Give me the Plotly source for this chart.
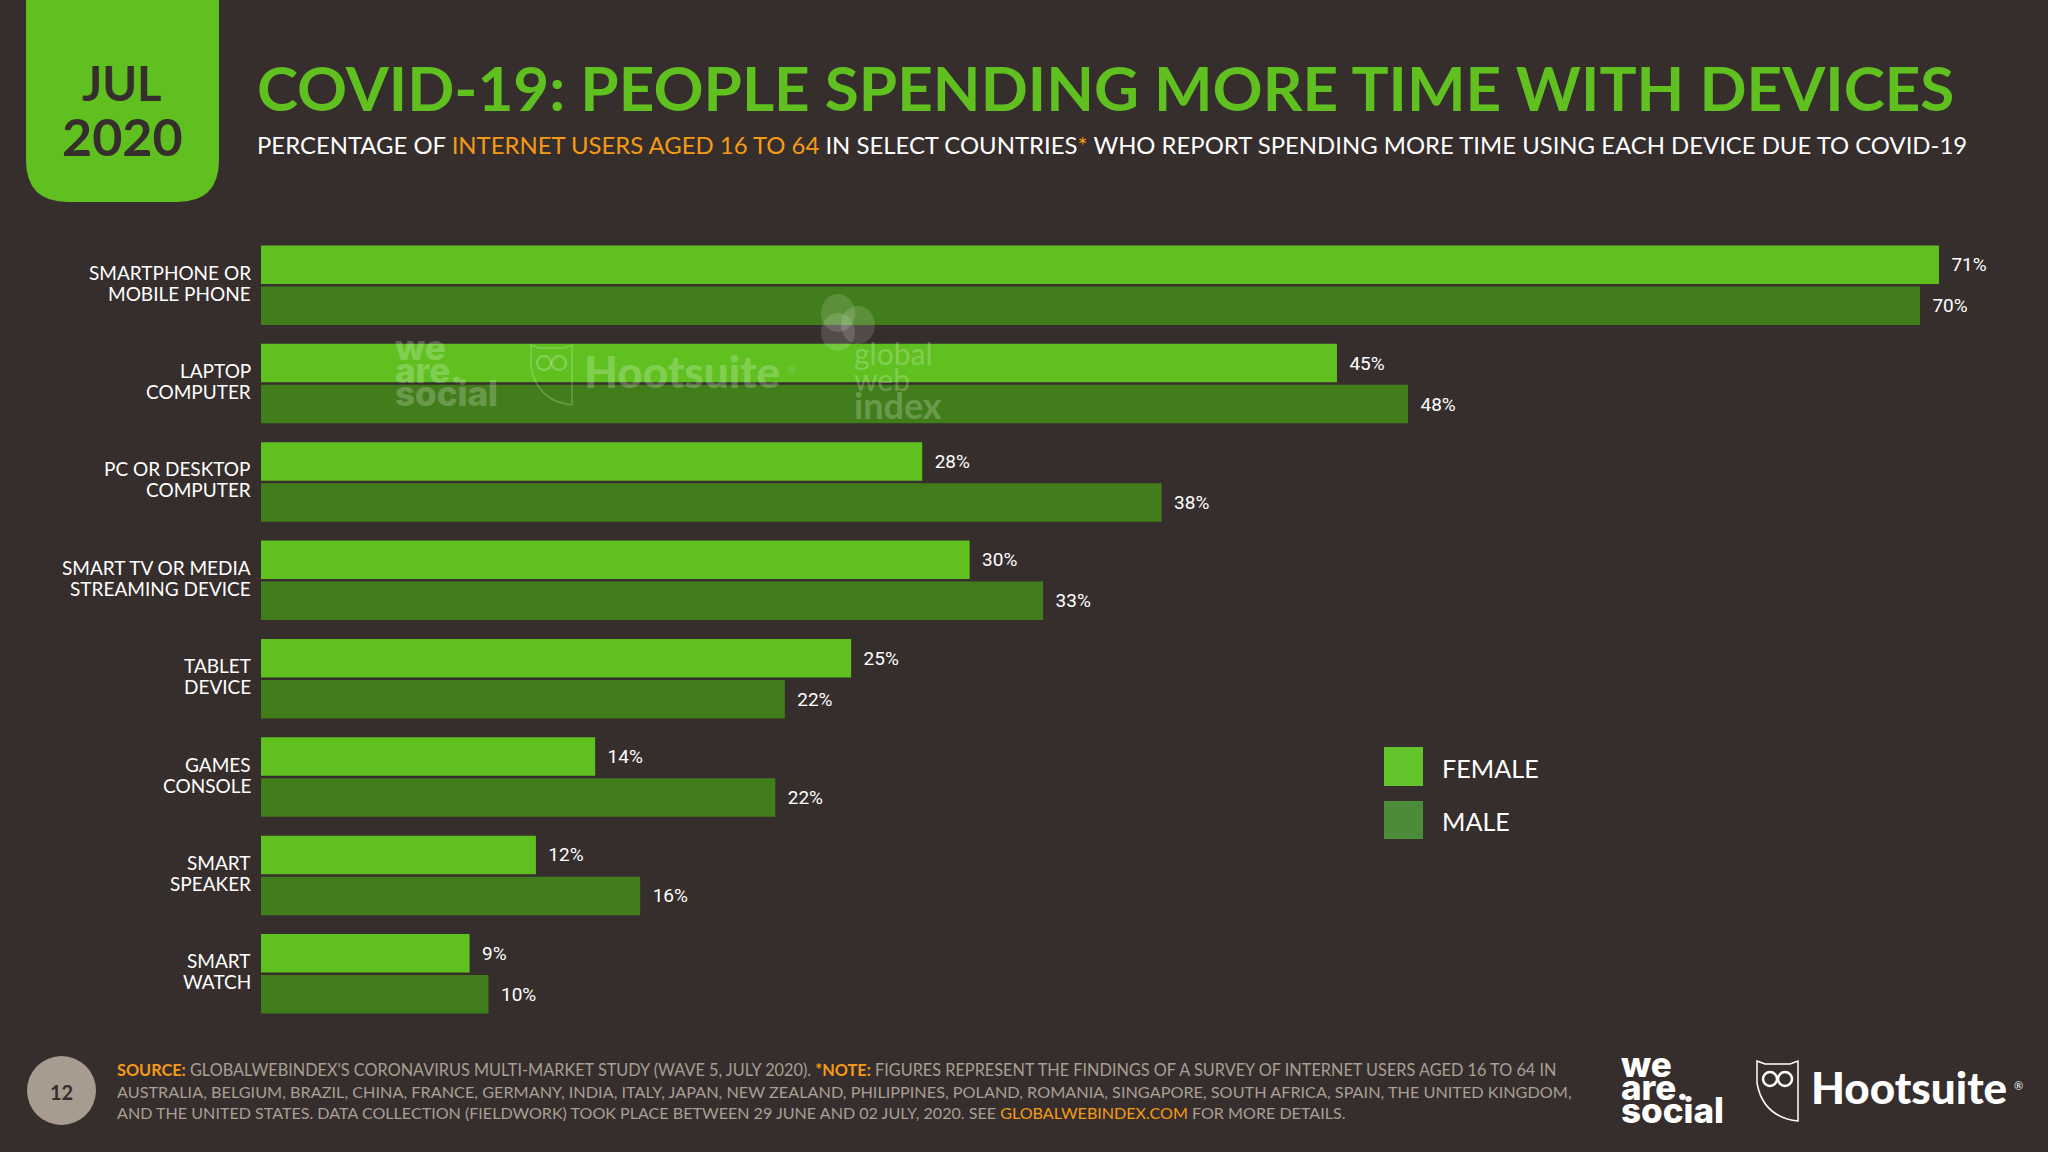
import plotly.graph_objects as go

W, H = 2048, 1152

categories = ["SMARTPHONE OR<br>MOBILE PHONE", "LAPTOP<br>COMPUTER", "PC OR DESKTOP<br>COMPUTER",
              "SMART TV OR MEDIA<br>STREAMING DEVICE", "TABLET<br>DEVICE", "GAMES<br>CONSOLE",
              "SMART<br>SPEAKER", "SMART<br>WATCH"]
female = [70.8, 45.4, 27.9, 29.9, 24.9, 14.1, 11.6, 8.8]
male = [70.0, 48.4, 38.0, 33.0, 22.1, 21.7, 16.0, 9.6]

BG = "#362E2C"
GREEN = "#5FC020"
DARK_GREEN = "#417D1A"
ORANGE = "#F49A14"
GREY = "#A89F95"
BODY = "Lato"
NUMS = "Roboto"
LOGO = "Inter"


def px(x):
    return x / W


def py(y):
    return 1 - y / H


def path(*cmds):
    # cmds are (letter, x, y, ...) in page pixels, converted to paper coords
    out = []
    for c in cmds:
        if c[0] == "Z":
            out.append("Z")
            continue
        nums = c[1:]
        pairs = [f"{px(nums[i]):.5f},{py(nums[i + 1]):.5f}" for i in range(0, len(nums), 2)]
        out.append(c[0] + " " + " ".join(pairs))
    return " ".join(out)


shapes = []
notes = []


def add_text(text, x, y, size, color="#FFFFFF", anchor="left", family=BODY, opacity=1, weight=None):
    font = dict(size=size, color=color, family=family)
    if weight:
        font["weight"] = weight
    notes.append(dict(text=text, x=px(x), y=py(y), xref="paper", yref="paper", xanchor=anchor, yanchor="middle",
                      showarrow=False, font=font, borderpad=0, borderwidth=0, opacity=opacity, align=anchor))


def add_circle(cx, cy, rx, ry, fill, line=None, opacity=1, width=0):
    shapes.append(dict(type="circle", xref="paper", yref="paper", x0=px(cx - rx), x1=px(cx + rx),
                       y0=py(cy + ry), y1=py(cy - ry), fillcolor=fill, opacity=opacity,
                       line=dict(color=line or fill, width=width), layer="above"))


def add_rect(x0, y0, x1, y1, fill):
    shapes.append(dict(type="rect", xref="paper", yref="paper", x0=px(x0), x1=px(x1), y0=py(y1), y1=py(y0),
                       fillcolor=fill, line=dict(width=0), layer="above"))


def add_owl(ox, oy, sc, color, opacity=1):
    # shield outline plus the two eyes; ox, oy is the top left corner
    def p(a, b):
        return ox + a * sc, oy + b * sc
    shapes.append(dict(type="path", xref="paper", yref="paper", layer="above", opacity=opacity,
                       line=dict(color=color, width=1.5), fillcolor="rgba(0,0,0,0)",
                       path=path(("M", *p(0, 0)), ("L", *p(8, 3)), ("L", *p(33, 3)), ("L", *p(41, 0)),
                                 ("L", *p(41, 60)), ("Q", *p(6, 56), *p(0, 22)), ("Z",))))
    add_circle(*p(13, 18), 7 * sc, 7 * sc, "rgba(0,0,0,0)", color, opacity, 2.5)
    add_circle(*p(28, 18), 7 * sc, 7 * sc, "rgba(0,0,0,0)", color, opacity, 2.5)


def add_weare(x, y0, opacity=1):
    for word, y in (("we", y0), ("are.", y0 + 23), ("social", y0 + 46)):
        add_text(word, x, y, 35, "#FFFFFF", family=LOGO, opacity=opacity, weight=800)


# header badge
shapes.append(dict(type="path", xref="paper", yref="paper", fillcolor=GREEN, line=dict(width=0), layer="above",
                   path=path(("M", 26, 0), ("L", 219, 0), ("L", 219, 160), ("Q", 219, 202, 177, 202),
                             ("L", 68, 202), ("Q", 26, 202, 26, 160), ("Z",))))
add_text("<b>JUL</b>", 122, 83, 47, BG, "center")
add_text("<b>2020</b>", 122, 136, 52, BG, "center")

add_text("<b>COVID-19: PEOPLE SPENDING MORE TIME WITH DEVICES</b>", 257, 87, 62, GREEN)
add_text(f'PERCENTAGE OF <span style="color:{ORANGE}">INTERNET USERS AGED 16 TO 64</span> IN SELECT COUNTRIES'
         f'<span style="color:{ORANGE}">*</span> WHO REPORT SPENDING MORE TIME USING EACH DEVICE DUE TO COVID-19',
         257, 144, 23.9)

# category labels, two lines each with tight spacing
for i, cat in enumerate(categories):
    first, second = cat.split("<br>")
    for line, shift in ((first, 13), (second, -8)):
        notes.append(dict(text=line, x=px(251), y=i, xref="paper", yref="y", xanchor="right", yanchor="middle",
                          yshift=shift, showarrow=False, borderpad=0, borderwidth=0,
                          font=dict(size=19, color="#FFFFFF", family=BODY)))

# legend
add_rect(1384, 747, 1423, 786, "#62C42A")
add_rect(1384, 801, 1423, 839, "#4A8C38")
add_text("FEMALE", 1442, 768, 25.2)
add_text("MALE", 1442, 821, 25.2)

# footer
add_circle(61.5, 1090.5, 34.5, 34.5, "#A79C8F")
add_text("<b>12</b>", 61.5, 1092, 20, BG, "center")
add_text(f'<span style="color:{ORANGE}"><b>SOURCE:</b></span> GLOBALWEBINDEX\'S CORONAVIRUS MULTI-MARKET STUDY '
         f'(WAVE 5, JULY 2020). <span style="color:{ORANGE}"><b>*NOTE:</b></span> FIGURES REPRESENT THE FINDINGS OF '
         'A SURVEY OF INTERNET USERS AGED 16 TO 64 IN', 117, 1069, 16.3, GREY)
add_text("AUSTRALIA, BELGIUM, BRAZIL, CHINA, FRANCE, GERMANY, INDIA, ITALY, JAPAN, NEW ZEALAND, PHILIPPINES, POLAND, "
         "ROMANIA, SINGAPORE, SOUTH AFRICA, SPAIN, THE UNITED KINGDOM,", 117, 1091, 16.26, GREY)
add_text(f'AND THE UNITED STATES. DATA COLLECTION (FIELDWORK) TOOK PLACE BETWEEN 29 JUNE AND 02 JULY, 2020. SEE '
         f'<span style="color:{ORANGE}">GLOBALWEBINDEX.COM</span> FOR MORE DETAILS.', 117, 1112, 16.1, GREY)

# footer logos
add_weare(1621, 1064)
add_owl(1757, 1061, 1, "#FFFFFF")
add_text("Hootsuite", 1811, 1087, 44, weight=900)
add_text("®", 2014, 1085, 11)

# watermark
WM = 0.22
add_weare(395, 347, WM)
add_owl(531, 345, 1, "#FFFFFF", WM)
add_text("Hootsuite", 584, 371, 44, opacity=WM, weight=900)
add_text("®", 787, 369, 11, opacity=WM)
add_circle(838, 313, 17, 19, "#FFFFFF", opacity=0.14)
add_circle(858, 325, 17, 19, "#FFFFFF", opacity=0.14)
add_circle(838, 332, 17, 19, "#FFFFFF", opacity=0.14)
add_text("global", 854, 353, 30, opacity=WM)
add_text("web", 854, 379, 30, opacity=WM)
add_text("<b>index</b>", 854, 405, 36, opacity=WM)

fig = go.Figure()
for name, vals, color in (("FEMALE", female, GREEN), ("MALE", male, DARK_GREEN)):
    fig.add_trace(go.Bar(name=name, y=categories, x=vals, orientation="h", marker=dict(color=color, line=dict(width=0)),
                         texttemplate="\u00a0\u00a0%{x:.0f}%", textposition="outside", cliponaxis=False,
                         textfont=dict(size=19, color="#FFFFFF", family=NUMS)))

fig.update_layout(
    width=W, height=H, margin=dict(l=0, r=0, t=0, b=0), paper_bgcolor=BG, plot_bgcolor=BG,
    barmode="group", bargap=0.167, bargroupgap=0.06, showlegend=False,
    shapes=shapes, annotations=notes,
    xaxis=dict(domain=[px(261), px(2038.5)], range=[0, 75], visible=False),
    yaxis=dict(domain=[py(1023), py(236)], range=[7.5, -0.5], visible=False, type="category",
               categoryorder="array", categoryarray=categories),
)

fig.write_html("out.html", config=dict(displayModeBar=False),
               post_script=f"document.body.style.margin='0';document.body.style.background='{BG}';")
